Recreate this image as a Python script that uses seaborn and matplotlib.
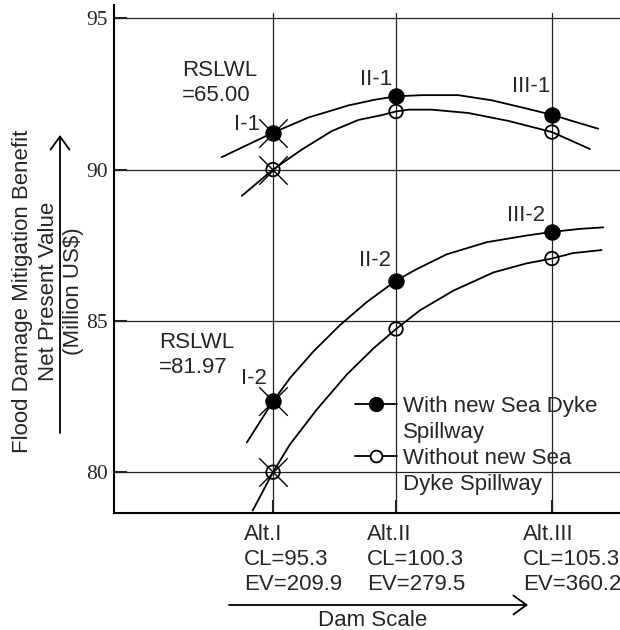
import pandas as pd
import matplotlib
matplotlib.use("Agg")
import matplotlib.pyplot as plt
from matplotlib.lines import Line2D
import seaborn as sns

sns.set_style("white")
plt.rcParams["font.family"] = ["Liberation Sans", "DejaVu Sans"]

# dam scale position of the three alternatives
alt_x = [0.0, 4.41, 10.0]
alt_labels = ["Alt.I\nCL=95.3\nEV=209.9",
              "Alt.II\nCL=100.3\nEV=279.5",
              "Alt.III\nCL=105.3\nEV=360.2"]

# RSLWL = 65.00 curves
with1_x = [-1.84, 0.0, 1.27, 2.70, 3.66, 4.41, 5.33, 6.64, 7.84, 9.03, 10.0, 10.82, 11.66]
with1_y = [90.41, 91.22, 91.72, 92.12, 92.31, 92.42, 92.46, 92.46, 92.29, 92.03, 91.81, 91.58, 91.35]
without1_x = [-1.12, 0.0, 1.03, 2.10, 3.06, 3.90, 4.41, 4.85, 5.69, 7.00, 8.43, 10.0, 11.36]
without1_y = [89.13, 90.0, 90.66, 91.27, 91.64, 91.80, 91.92, 91.98, 91.98, 91.87, 91.61, 91.24, 90.68]

# RSLWL = 81.97 curves
with2_x = [-0.94, 0.0, 0.61, 1.44, 2.40, 3.36, 4.41, 5.15, 6.23, 7.66, 9.09, 10.0, 11.00, 11.84]
with2_y = [80.98, 82.34, 83.11, 83.98, 84.86, 85.62, 86.33, 86.71, 87.20, 87.60, 87.82, 87.94, 88.04, 88.09]
without2_x = [-0.73, 0.0, 0.61, 1.57, 2.64, 3.60, 4.41, 5.27, 6.47, 7.90, 9.09, 10.0, 10.76, 11.78]
without2_y = [78.73, 80.0, 80.92, 82.07, 83.22, 84.09, 84.73, 85.35, 86.00, 86.60, 86.90, 87.06, 87.24, 87.34]

# values at the alternatives
with_pts1 = [91.22, 92.42, 91.81]
with_pts2 = [82.34, 86.33, 87.94]
without_pts1 = [90.0, 91.92, 91.24]
without_pts2 = [80.0, 84.73, 87.06]
cross_pts = [91.22, 90.0, 82.34, 80.0]   # crossed out points at Alt.I

y_ticks = [80, 85, 90, 95]

curves = pd.concat([
    pd.DataFrame({"x": with1_x, "y": with1_y, "curve": "with1"}),
    pd.DataFrame({"x": without1_x, "y": without1_y, "curve": "without1"}),
    pd.DataFrame({"x": with2_x, "y": with2_y, "curve": "with2"}),
    pd.DataFrame({"x": without2_x, "y": without2_y, "curve": "without2"}),
])
filled = pd.DataFrame({"x": alt_x * 2, "y": with_pts1 + with_pts2})
hollow = pd.DataFrame({"x": alt_x * 2, "y": without_pts1 + without_pts2})
crosses = pd.DataFrame({"x": [alt_x[0]] * 4, "y": cross_pts})

fig = plt.figure(figsize=(6.2, 6.3), dpi=100)
ax = fig.add_axes([0.1839, 0.1862, 0.8161, 0.8059])

# grid
for v in y_ticks:
    ax.axhline(v, color="#222222", lw=0.9, zorder=1)
for v in alt_x:
    ax.axvline(v, ymax=0.984, color="#222222", lw=0.9, zorder=1)

sns.lineplot(data=curves, x="x", y="y", units="curve", estimator=None,
             sort=False, color="black", lw=1.3, ax=ax, zorder=3)
sns.scatterplot(data=filled, x="x", y="y", marker="o", s=120, color="black",
                edgecolor="black", ax=ax, zorder=4)
sns.scatterplot(data=hollow, x="x", y="y", marker="o", s=95, facecolors="none",
                edgecolor="black", linewidth=1.3, ax=ax, zorder=4)
sns.scatterplot(data=crosses, x="x", y="y", marker="x", s=420, color="black",
                linewidth=1.0, ax=ax, zorder=5)

ax.set_xlim(-5.70, 12.44)
ax.set_ylim(78.66, 95.44)
ax.set_xlabel("")
ax.set_ylabel("")

ax.set_yticks(y_ticks)
ax.set_yticklabels([str(v) for v in y_ticks], fontfamily="Liberation Serif", fontsize=15.5)
ax.tick_params(axis="y", direction="in", length=9.5, width=1.5, pad=4.3, left=True)

# major ticks mark the alternatives, labels sit on minor ticks a bit to the left
ax.set_xticks(alt_x, labels=[""] * 3)
ax.set_xticks([v - 1.04 for v in alt_x], labels=alt_labels, minor=True)
for lab in ax.get_xticklabels(minor=True):
    lab.set_fontsize(16)
    lab.set_horizontalalignment("left")
    lab.set_multialignment("left")
    lab.set_linespacing(1.25)
ax.tick_params(axis="x", which="major", direction="in", length=9.5, width=1.5, bottom=True)
ax.tick_params(axis="x", which="minor", length=0, pad=8, bottom=True)

sns.despine(ax=ax, top=True, right=True)
for side in ["left", "bottom"]:
    ax.spines[side].set_linewidth(1.5)
    ax.spines[side].set_color("black")

# point names and water level notes
ax.text(-3.26, 92.85, "RSLWL\n=65.00", fontsize=16, ha="left", va="center", linespacing=1.25)
ax.text(-4.09, 83.86, "RSLWL\n=81.97", fontsize=16, ha="left", va="center", linespacing=1.25)
ax.text(-1.40, 91.48, "I-1", fontsize=16, ha="left", va="center")
ax.text(3.12, 92.99, "II-1", fontsize=16, ha="left", va="center")
ax.text(8.57, 92.73, "III-1", fontsize=16, ha="left", va="center")
ax.text(-1.15, 83.11, "I-2", fontsize=16, ha="left", va="center")
ax.text(3.08, 87.01, "II-2", fontsize=16, ha="left", va="center")
ax.text(8.39, 88.47, "III-2", fontsize=16, ha="left", va="center")

blank = Line2D([], [], color="none")
handles = [
    Line2D([], [], color="black", lw=1.3, marker="o", ms=10),
    blank,
    Line2D([], [], color="black", lw=1.3, marker="o", ms=8.5, mfc="white", mew=1.3),
    blank,
]
ax.legend(handles, ["With new Sea Dyke", "Spillway", "Without new Sea", "Dyke Spillway"],
          loc="upper left", bbox_to_anchor=(355 / 620, 1 - 396 / 630),
          bbox_transform=fig.transFigure, frameon=False, fontsize=16,
          borderpad=0, borderaxespad=0, handlelength=1.9, handletextpad=0.25,
          labelspacing=0.23)

# axis titles with arrows
fig.text(48 / 620, 1 - 291 / 630,
         "Flood Damage Mitigation Benefit\nNet Present Value\n(Million US$)",
         rotation=90, ha="center", va="center", multialignment="center",
         fontsize=16, linespacing=1.3)
fig.text(373 / 620, 1 - 621 / 630, "Dam Scale", ha="center", va="center", fontsize=16)

arrow = dict(arrowstyle="->,head_length=0.47,head_width=0.34", lw=1.3,
             color="black", mutation_scale=20, shrinkA=0, shrinkB=0)
ax.annotate("", xy=(60 / 620, 1 - 135 / 630), xytext=(60 / 620, 1 - 433 / 630),
            xycoords="figure fraction", arrowprops=arrow)
ax.annotate("", xy=(528 / 620, 1 - 605 / 630), xytext=(229 / 620, 1 - 605 / 630),
            xycoords="figure fraction", arrowprops=arrow, annotation_clip=False)

fig.savefig("out.png", dpi=100)
